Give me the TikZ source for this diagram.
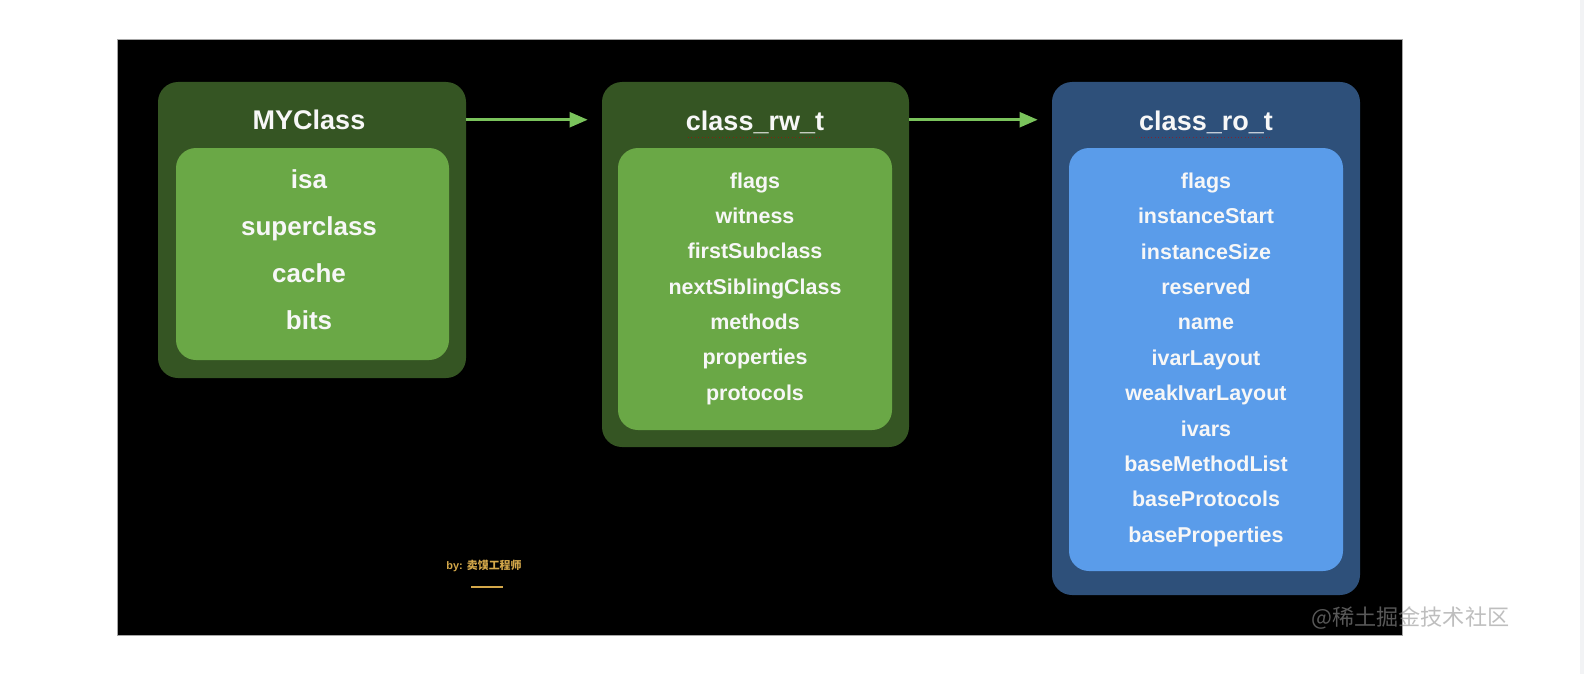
\documentclass[tikz,border=0pt]{standalone}
\usepackage{fontspec}
\setmainfont{Liberation Sans}
\newfontfamily\cjkfont{Noto Sans CJK SC}
\usetikzlibrary{arrows.meta,calc}
\definecolor{gouter}{HTML}{355523}
\definecolor{ginner}{HTML}{6AA846}
\definecolor{garrow}{HTML}{7AC35C}
\definecolor{bouter}{HTML}{2E507A}
\definecolor{binner}{HTML}{5A9CEA}
\definecolor{txt}{HTML}{F7F7F7}
\definecolor{gold}{HTML}{D4A84A}
\definecolor{strip}{HTML}{F2F3F5}
\tikzset{
  box/.style={rounded corners=15pt, inner sep=0pt, draw=none},
  titletext/.style={text=txt, font=\bfseries\fontsize{20.25pt}{24pt}\selectfont, inner sep=0pt, text height=0.72em, text depth=0pt, yshift=-2.6pt},
  bigitem/.style={text=txt, font=\bfseries\fontsize{19.5pt}{23pt}\selectfont, inner sep=0pt, text height=0.72em, text depth=0pt, yshift=-2.6pt},
  item/.style={text=txt, font=\bfseries\fontsize{16.1pt}{19pt}\selectfont, inner sep=0pt, text height=0.72em, text depth=0pt, yshift=-2.6pt},
  arr/.style={draw=garrow, line width=2.25pt, -{Triangle[length=13.5pt,width=11pt]}, shorten >=10.5pt},
  spell/.style={draw=red!75!black, opacity=0.55, line width=0.6pt, dotted},
}
\begin{document}
\begin{tikzpicture}[x=0.75pt,y=-0.75pt]
\useasboundingbox (0,0) rectangle (1584,674);
\fill[white] (0,0) rectangle (1584,674);
\fill[strip] (1580,0) rectangle (1584,674);
\filldraw[fill=black, draw=gray!70, line width=0.75pt] (117,40) rectangle (1402,635);

% MYClass
\node[box, fill=gouter, minimum width=308*0.75pt, minimum height=296*0.75pt] (myo) at (312,230) {};
\node[box, fill=ginner, minimum width=273*0.75pt, minimum height=212*0.75pt] (myi) at (312.5,254) {};
\node[titletext] (myt) at (309,121) {MYClass};
\node[bigitem] (my1) at (309,180) {isa};
\node[bigitem] (my2) at (309,227) {superclass};
\node[bigitem] (my3) at (309,274) {cache};
\node[bigitem] (my4) at (309,321) {bits};

% class_rw_t
\node[box, fill=gouter, minimum width=307*0.75pt, minimum height=365*0.75pt] (rwo) at (755.5,264.5) {};
\node[box, fill=ginner, minimum width=274*0.75pt, minimum height=282*0.75pt] (rwi) at (755,289) {};
\node[titletext] (rwt) at (755,122) {class\_rw\_t};
\foreach \t [count=\i from 0] in {flags,witness,firstSubclass,nextSiblingClass,methods,properties,protocols}
  \node[item] (rw\i) at (755,180+35.3*\i) {\t};
\draw[spell] ($(rwt.south west)+(2,7)$) -- ($(rwt.south east)+(-2,7)$);

% class_ro_t
\node[box, fill=bouter, minimum width=308*0.75pt, minimum height=513*0.75pt] (roo) at (1206,338.5) {};
\node[box, fill=binner, minimum width=274*0.75pt, minimum height=423*0.75pt] (roi) at (1206,359.5) {};
\node[titletext] (rot) at (1206,122) {class\_ro\_t};
\foreach \t [count=\i from 0] in {flags,instanceStart,instanceSize,reserved,name,ivarLayout,weakIvarLayout,ivars,baseMethodList,baseProtocols,baseProperties}
  \node[item] (ro\i) at (1206,180+35.4*\i) {\t};
\draw[spell] ($(rot.south west)+(2,7)$) -- ($(rot.south east)+(-2,7)$);

% arrows
\draw[arr] ($(myo.north east)+(0,38)$) -- ($(rwo.north west)+(0,38)$);
\draw[arr] ($(rwo.north east)+(0,38)$) -- ($(roo.north west)+(0,38)$);

% signature
\node[text=gold, font=\bfseries\fontsize{8.2pt}{10pt}\selectfont, inner sep=0pt] (sig) at (484,566) {by: {\cjkfont 卖馍工程师}};
\coordinate (ul1) at (471,587);
\coordinate (ul2) at (503,587);
\draw[gold, line width=1.1pt] (ul1) -- (ul2);

% watermark
\node[text=black!42, opacity=0.6, font=\cjkfont\fontsize{16.6pt}{19pt}\selectfont, inner sep=0pt, anchor=west] (wm) at (1311,618) {@稀土掘金技术社区};
\end{tikzpicture}
\end{document}
